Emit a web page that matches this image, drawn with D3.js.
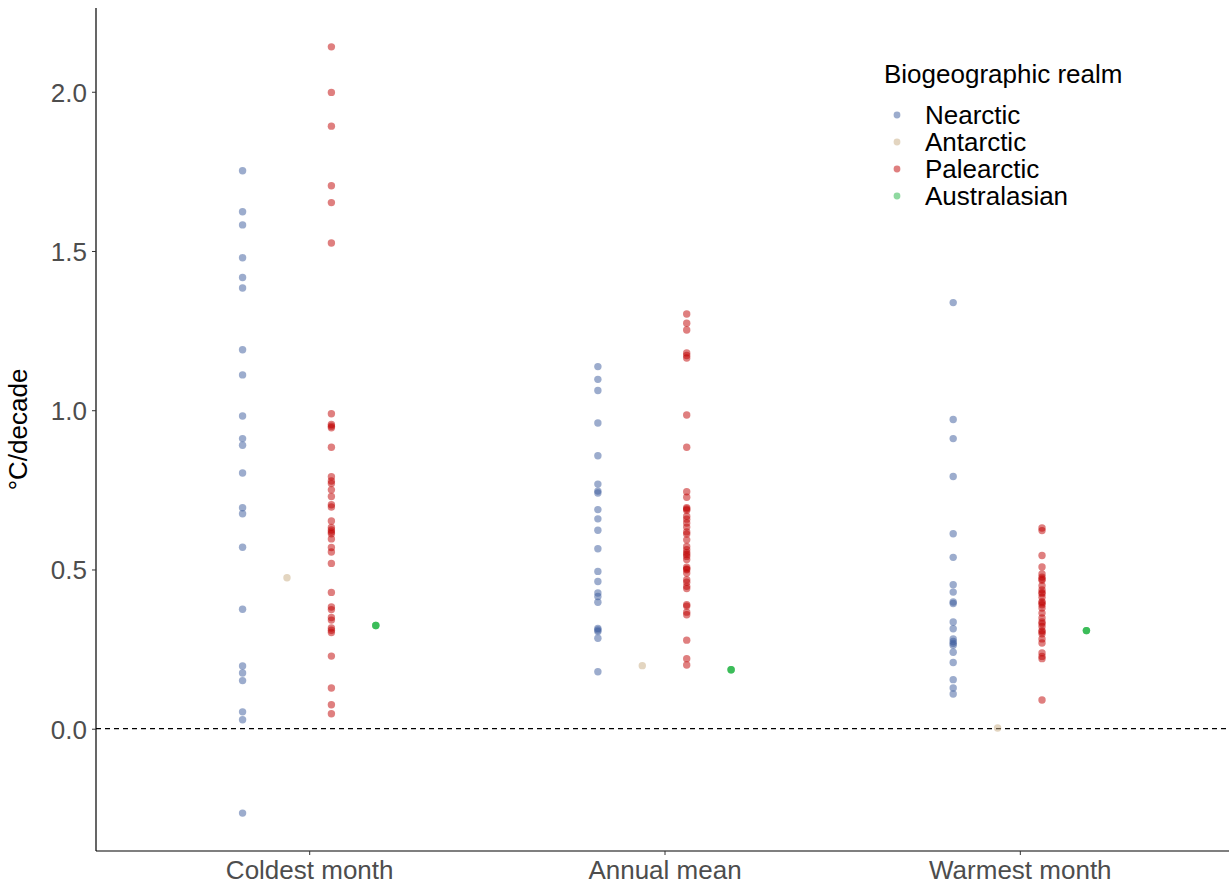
<!DOCTYPE html>
<html>
<head>
<meta charset="utf-8">
<script src="https://cdn.jsdelivr.net/npm/d3@7"></script>
<style>
  html, body { margin: 0; padding: 0; background: #fff; }
  svg { display: block; font-family: "Liberation Sans", Arial, Helvetica, sans-serif; }
</style>
</head>
<body>
<svg id="chart" width="1229" height="886"></svg>
<script>
// Warming rate (°C per decade) by temperature variable and biogeographic realm
const variables = ["Coldest month", "Annual mean", "Warmest month"];
const realms = ["Nearctic", "Antarctic", "Palearctic", "Australasian"];
const realmColors = ["#3a5a9c", "#c7ab81", "#c00000", "#1fb341"];
const yTicks = [0.0, 0.5, 1.0, 1.5, 2.0];

const nearcticColdest = [1.752, 1.623, 1.582, 1.479, 1.417, 1.384, 1.190, 1.111, 0.982, 0.911, 0.890,
  0.803, 0.694, 0.675, 0.570, 0.375, 0.197, 0.175, 0.151, 0.053, 0.028, -0.265];
const antarcticColdest = [0.474];
const palearcticColdest = [2.141, 1.998, 1.892, 1.705, 1.652, 1.525, 0.989, 0.955, 0.950, 0.945, 0.884,
  0.791, 0.778, 0.770, 0.750, 0.729, 0.703, 0.696, 0.652, 0.632, 0.624, 0.618, 0.612, 0.596, 0.569,
  0.555, 0.519, 0.428, 0.382, 0.374, 0.349, 0.341, 0.316, 0.309, 0.302, 0.228, 0.128, 0.075, 0.047];
const australasianColdest = [0.324, 0.324, 0.324];

const nearcticAnnual = [1.137, 1.097, 1.062, 0.960, 0.857, 0.768, 0.746, 0.740, 0.688, 0.659, 0.623,
  0.565, 0.494, 0.462, 0.426, 0.415, 0.397, 0.315, 0.310, 0.305, 0.284, 0.179];
const antarcticAnnual = [0.198];
const palearcticAnnual = [1.302, 1.273, 1.252, 1.180, 1.172, 1.164, 0.985, 0.884, 0.744, 0.727, 0.694,
  0.690, 0.686, 0.667, 0.658, 0.646, 0.633, 0.618, 0.611, 0.593, 0.572, 0.562, 0.553, 0.547, 0.541,
  0.531, 0.507, 0.502, 0.499, 0.489, 0.468, 0.460, 0.447, 0.440, 0.389, 0.385, 0.366, 0.358, 0.278,
  0.220, 0.200];
const australasianAnnual = [0.185, 0.185, 0.185];

const nearcticWarmest = [1.338, 0.971, 0.911, 0.792, 0.612, 0.538, 0.452, 0.429, 0.398, 0.393, 0.335,
  0.314, 0.282, 0.274, 0.268, 0.262, 0.240, 0.208, 0.154, 0.128, 0.109];
const antarcticWarmest = [0.002];
const palearcticWarmest = [0.630, 0.622, 0.544, 0.508, 0.486, 0.476, 0.470, 0.466, 0.449, 0.436, 0.428,
  0.424, 0.413, 0.399, 0.395, 0.389, 0.379, 0.363, 0.348, 0.335, 0.330, 0.321, 0.308, 0.304, 0.298,
  0.282, 0.269, 0.238, 0.227, 0.220, 0.090];
const australasianWarmest = [0.308, 0.308, 0.308];

// Long-format rows for plotting
const seriesTable = [
  [variables[0], realms[0], nearcticColdest], [variables[0], realms[1], antarcticColdest],
  [variables[0], realms[2], palearcticColdest], [variables[0], realms[3], australasianColdest],
  [variables[1], realms[0], nearcticAnnual], [variables[1], realms[1], antarcticAnnual],
  [variables[1], realms[2], palearcticAnnual], [variables[1], realms[3], australasianAnnual],
  [variables[2], realms[0], nearcticWarmest], [variables[2], realms[1], antarcticWarmest],
  [variables[2], realms[2], palearcticWarmest], [variables[2], realms[3], australasianWarmest]
];
const rows = [];
seriesTable.forEach(([v, r, vals]) => vals.forEach(val => rows.push({ variable: v, realm: r, value: val })));

const svg = d3.select("#chart");
const plot = { left: 96, right: 1233, top: 8, bottom: 851 };
const fontSize = 26;

const x = d3.scalePoint().domain(variables).range([plot.left, plot.right]).padding(0.6);
const dodgeHalf = 0.1875 * x.step();
const dodge = d3.scalePoint().domain(realms).range([-dodgeHalf, dodgeHalf]);
const y = d3.scaleLinear().domain([-0.384, 2.263]).range([plot.bottom, plot.top]);
const color = d3.scaleOrdinal().domain(realms).range(realmColors);

// zero reference line
svg.append("line")
  .attr("x1", plot.left).attr("x2", plot.right)
  .attr("y1", y(0)).attr("y2", y(0))
  .attr("stroke", "#000").attr("stroke-width", 1.2).attr("stroke-dasharray", "5,4");

// points
svg.append("g").selectAll("circle").data(rows).join("circle")
  .attr("cx", d => x(d.variable) + dodge(d.realm))
  .attr("cy", d => y(d.value))
  .attr("r", 3.7)
  .attr("fill", d => color(d.realm))
  .attr("fill-opacity", 0.5);

// axes
const yAxis = svg.append("g")
  .attr("transform", `translate(${plot.left},0)`)
  .call(d3.axisLeft(y).tickValues(yTicks).tickFormat(d3.format(".1f")).tickSize(4).tickSizeOuter(0));
const xAxis = svg.append("g")
  .attr("transform", `translate(0,${plot.bottom})`)
  .call(d3.axisBottom(x).tickSize(4).tickSizeOuter(0));

[yAxis, xAxis].forEach(g => {
  g.select(".domain").attr("stroke", "#000").attr("stroke-width", 1.2);
  g.selectAll(".tick line").attr("stroke", "#333").attr("stroke-width", 1);
  g.selectAll(".tick text").attr("fill", "#4d4d4d").attr("font-size", fontSize)
    .attr("font-family", "'Liberation Sans', Arial, sans-serif");
});
yAxis.select(".domain").attr("d", `M0,${plot.top}V${plot.bottom}`);
xAxis.select(".domain").attr("d", `M${plot.left},0H${plot.right}`);
yAxis.selectAll(".tick text").attr("x", -9).attr("dy", "0.36em");
xAxis.selectAll(".tick text").attr("y", 8).attr("dy", "0.76em");

// y-axis title
svg.append("text")
  .attr("transform", `translate(27,${(plot.top + plot.bottom) / 2}) rotate(-90)`)
  .attr("text-anchor", "middle")
  .attr("font-size", fontSize)
  .attr("fill", "#000")
  .text("°C/decade");

// legend
const legend = svg.append("g").attr("transform", "translate(884,0)");
legend.append("text").attr("x", 0).attr("y", 83)
  .attr("font-size", fontSize).attr("fill", "#000").text("Biogeographic realm");
const items = legend.selectAll("g.item").data(realms).join("g")
  .attr("class", "item")
  .attr("transform", (d, i) => `translate(0,${115 + i * 27})`);
items.append("circle").attr("cx", 13).attr("cy", 0).attr("r", 3.4)
  .attr("fill", d => color(d)).attr("fill-opacity", 0.5);
items.append("text").attr("x", 41).attr("y", 9)
  .attr("font-size", fontSize).attr("fill", "#000").text(d => d);
</script>
</body>
</html>
